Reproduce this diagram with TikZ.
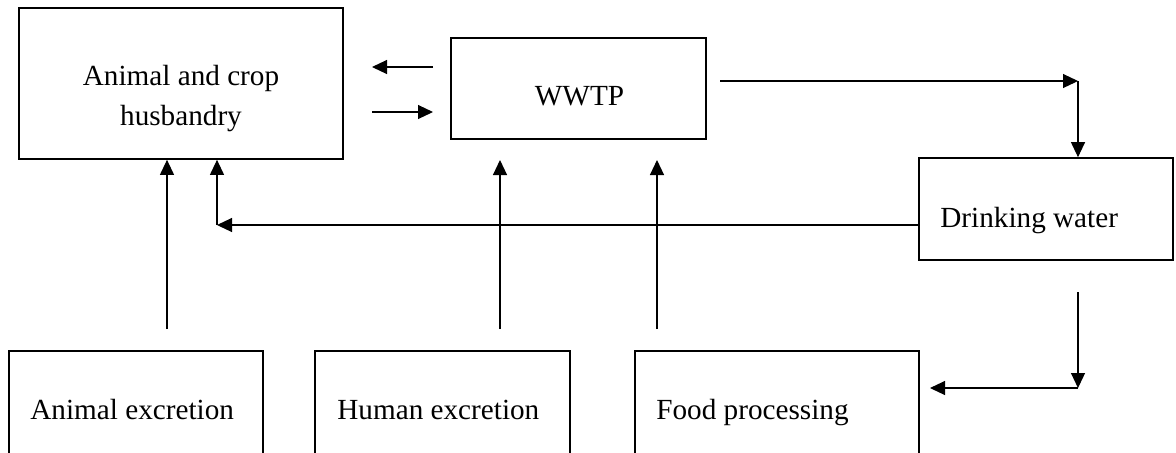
\documentclass[tikz,border=0pt]{standalone}
\usepackage{fontspec}
\setmainfont{Liberation Serif}
\usetikzlibrary{arrows.meta}
\begin{document}
\begin{tikzpicture}[x=0.5pt,y=-0.5pt,
  box/.style={draw,line width=0.85pt,rectangle,inner sep=0pt,minimum height=#1},
  box/.default={50.5pt},
  lbl/.style={font=\fontsize{14.6}{20}\selectfont,inner sep=0pt},
  arr/.style={line width=0.55pt,-{Triangle[length=7.5pt,width=7pt]}}]
\useasboundingbox (0,0) rectangle (1176,452);
% boxes
\node[box=75.5pt,minimum width=162pt] (A) at (181,83.5) {};
\node[box=50.5pt,minimum width=127.5pt] (W) at (578.5,88.5) {};
\node[box=51pt,minimum width=127pt] (D) at (1046,209) {};
\node[box=59.5pt,minimum width=127pt] (AE) at (136,410.5) {};
\node[box=59.5pt,minimum width=127.5pt] (HE) at (442.5,410.5) {};
\node[box=59.5pt,minimum width=142pt] (FP) at (777,410.5) {};
% labels
\node[lbl,anchor=base] (tA1) at (181,85) {Animal and crop};
\node[lbl,anchor=base] (tA2) at (181,125) {husbandry};
\node[lbl,anchor=base] (tW) at (579.5,105) {WWTP};
\node[lbl,anchor=base west] (tD) at (940,227) {Drinking water};
\node[lbl,anchor=base west] (tAE) at (30,419) {Animal excretion};
\node[lbl,anchor=base west] (tHE) at (337,419) {Human excretion};
\node[lbl,anchor=base west] (tFP) at (656,419) {Food processing};
% coordinates
\coordinate (wa1) at (433,67);
\coordinate (wa2) at (372,67);
\coordinate (aw1) at (372,112);
\coordinate (aw2) at (433,112);
\coordinate (wd1) at (720,81);
\coordinate (wd2) at (1078,81);
\coordinate (da) at (217,225);
\coordinate (ae) at (167,329);
\coordinate (he1) at (500,329);
\coordinate (he2) at (500,160);
\coordinate (fp1) at (657,329);
\coordinate (fp2) at (657,160);
\coordinate (df1) at (1078,292);
\coordinate (df2) at (1078,388);
\coordinate (df3) at (930,388);
% connectors
\draw[arr] (wa1) -- (wa2);
\draw[arr] (aw1) -- (aw2);
\draw[arr] (wd1) -- (wd2);
\draw[arr] (wd2) -- (wd2 |- D.north);
\draw[arr] (D.west |- da) -- (da);
\draw[arr] (da) -- (da |- A.south);
\draw[arr] (ae) -- (ae |- A.south);
\draw[arr] (he1) -- (he2);
\draw[arr] (fp1) -- (fp2);
\draw[arr] (df1) -- (df2);
\draw[arr] (df2) -- (df3);
\end{tikzpicture}
\end{document}
